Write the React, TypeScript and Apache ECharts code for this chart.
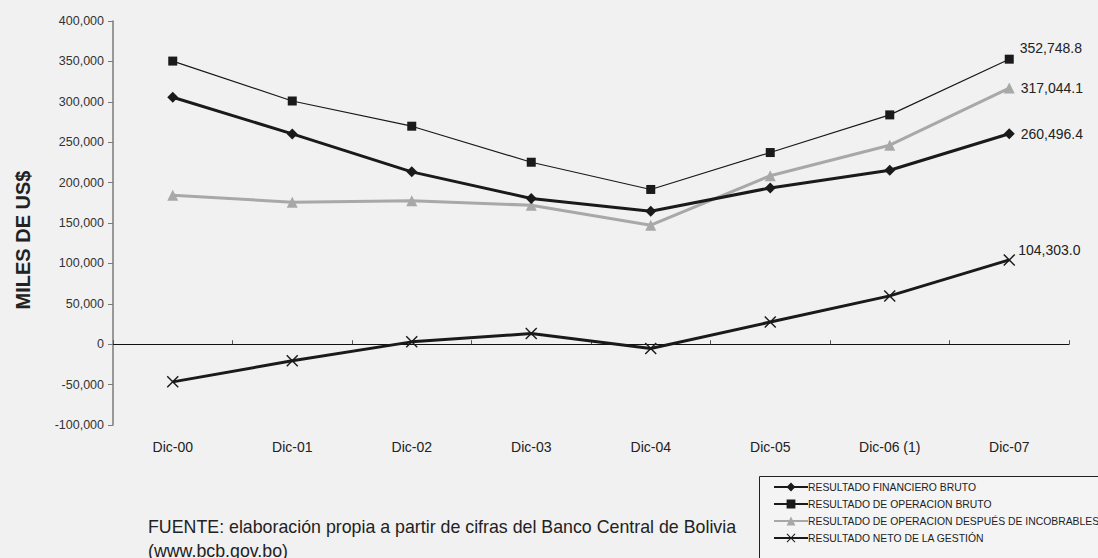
import React, { useEffect, useRef } from "react";
import * as echarts from "echarts";

const categories = ["Dic-00", "Dic-01", "Dic-02", "Dic-03", "Dic-04", "Dic-05", "Dic-06 (1)", "Dic-07"];
const financieroBruto = [305700, 260300, 213300, 180300, 164600, 193400, 215300, 260496.4];
const operacionBruto = [350400, 301000, 269800, 225200, 191500, 237200, 283800, 352748.8];
const operacionIncobrables = [184400, 175700, 177400, 172000, 147300, 208500, 246300, 317044.1];
const netoGestion = [-46600, -20600, 2900, 13200, -5400, 27400, 59800, 104303.0];
const yTicks = { min: -100000, max: 400000, interval: 50000 };

const seriesNames = [
  "RESULTADO FINANCIERO BRUTO",
  "RESULTADO DE OPERACION BRUTO",
  "RESULTADO DE OPERACION DESPUÉS DE INCOBRABLES",
  "RESULTADO NETO DE LA GESTIÓN",
];

const CROSS = "path://M0 1 L1 0 L6 5 L11 0 L12 1 L7 6 L12 11 L11 12 L6 7 L1 12 L0 11 L5 6 Z";

const fmt = (v: number) =>
  v.toLocaleString("en-US", { minimumFractionDigits: 1, maximumFractionDigits: 1 });

const FONT = "Liberation Sans, Arial, sans-serif";

function lastLabel(offsetY: number, distance: number) {
  return {
    show: true,
    position: "right" as const,
    distance,
    offset: [0, offsetY],
    color: "#222",
    fontSize: 14,
    fontFamily: FONT,
    formatter: (p: any) => fmt(p.value),
  };
}

function withLastLabel(values: number[], offsetY: number, distance = 6) {
  return values.map((v, i) =>
    i === values.length - 1 ? { value: v, label: lastLabel(offsetY, distance) } : v
  );
}

export default function App() {
  const ref = useRef<HTMLDivElement>(null);
  useEffect(() => {
    if (!ref.current) return;
    const chart = echarts.init(ref.current, null, { renderer: "svg" });
    chart.setOption({
      animation: false,
      backgroundColor: "#f1f1f1",
      textStyle: { fontFamily: FONT },
      grid: { left: 113, top: 21, right: 29, bottom: 133 },
      xAxis: [
        {
          type: "category",
          data: categories,
          boundaryGap: true,
          axisLine: { show: false, onZero: false },
          axisTick: { show: false },
          axisLabel: { color: "#222", fontSize: 14, margin: 15, fontFamily: FONT },
        },
        {
          type: "category",
          data: categories,
          boundaryGap: true,
          position: "bottom",
          axisLine: { show: true, onZero: true, lineStyle: { color: "#111", width: 1 } },
          axisTick: { show: true, inside: true, length: 4, lineStyle: { color: "#555" } },
          axisLabel: { show: false },
        },
      ],
      yAxis: {
        type: "value",
        min: yTicks.min,
        max: yTicks.max,
        interval: yTicks.interval,
        name: "MILES DE US$",
        nameLocation: "middle",
        nameRotate: 90,
        nameGap: 80,
        nameTextStyle: {
          fontSize: 20,
          fontWeight: "bold",
          color: "#222",
          fontFamily: FONT,
          padding: [0, 34, 0, 0],
        },
        axisLine: { show: true, lineStyle: { color: "#7a7a7a", width: 1.5 } },
        axisTick: { show: true, length: 5, lineStyle: { color: "#7a7a7a" } },
        splitLine: { show: false },
        axisLabel: {
          color: "#333",
          fontSize: 12.5,
          margin: 9,
          fontFamily: FONT,
          formatter: (v: number) => v.toLocaleString("en-US"),
        },
      },
      legend: {
        orient: "vertical",
        left: 773,
        top: 482,
        itemWidth: 34,
        itemHeight: 11,
        itemGap: 7,
        padding: 0,
        textStyle: { fontSize: 10.4, color: "#222", fontFamily: FONT, padding: [0, 0, 0, -5] },
        data: seriesNames,
      },
      graphic: [
        {
          type: "rect",
          left: 759,
          top: 476,
          shape: { width: 400, height: 100 },
          style: { fill: "#f4f4f4", stroke: "#222", lineWidth: 1 },
          z: -1,
          silent: true,
        },
        {
          type: "text",
          x: 148,
          y: 527,
          style: {
            text: "FUENTE: elaboración propia a partir de cifras del Banco Central de Bolivia",
            fontSize: 17.8,
            fontFamily: FONT,
            fill: "#222",
            verticalAlign: "middle",
          },
        },
        {
          type: "text",
          x: 148,
          y: 551,
          style: {
            text: "(www.bcb.gov.bo)",
            fontSize: 17.8,
            fontFamily: FONT,
            fill: "#222",
            verticalAlign: "middle",
          },
        },
      ],
      series: [
        {
          name: seriesNames[0],
          type: "line",
          data: withLastLabel(financieroBruto, 0),
          symbol: "diamond",
          symbolSize: 11,
          itemStyle: { color: "#1a1a1a" },
          lineStyle: { color: "#1a1a1a", width: 3 },
          z: 4,
        },
        {
          name: seriesNames[1],
          type: "line",
          data: withLastLabel(operacionBruto, -11),
          symbol: "rect",
          symbolSize: 9,
          itemStyle: { color: "#1a1a1a" },
          lineStyle: { color: "#1a1a1a", width: 1.2 },
          z: 3,
        },
        {
          name: seriesNames[2],
          type: "line",
          data: withLastLabel(operacionIncobrables, 0),
          symbol: "triangle",
          symbolSize: 11,
          itemStyle: { color: "#a8a8a8" },
          lineStyle: { color: "#a8a8a8", width: 3 },
          z: 2,
        },
        {
          name: seriesNames[3],
          type: "line",
          data: withLastLabel(netoGestion, -10, 3),
          symbol: CROSS,
          symbolSize: 12,
          itemStyle: { color: "#1a1a1a" },
          lineStyle: { color: "#1a1a1a", width: 3 },
          z: 4,
        },
      ],
    });
    return () => chart.dispose();
  }, []);
  return (
    <div
      ref={ref}
      style={{ position: "fixed", left: 0, top: 0, width: 1098, height: 558 }}
    />
  );
}
